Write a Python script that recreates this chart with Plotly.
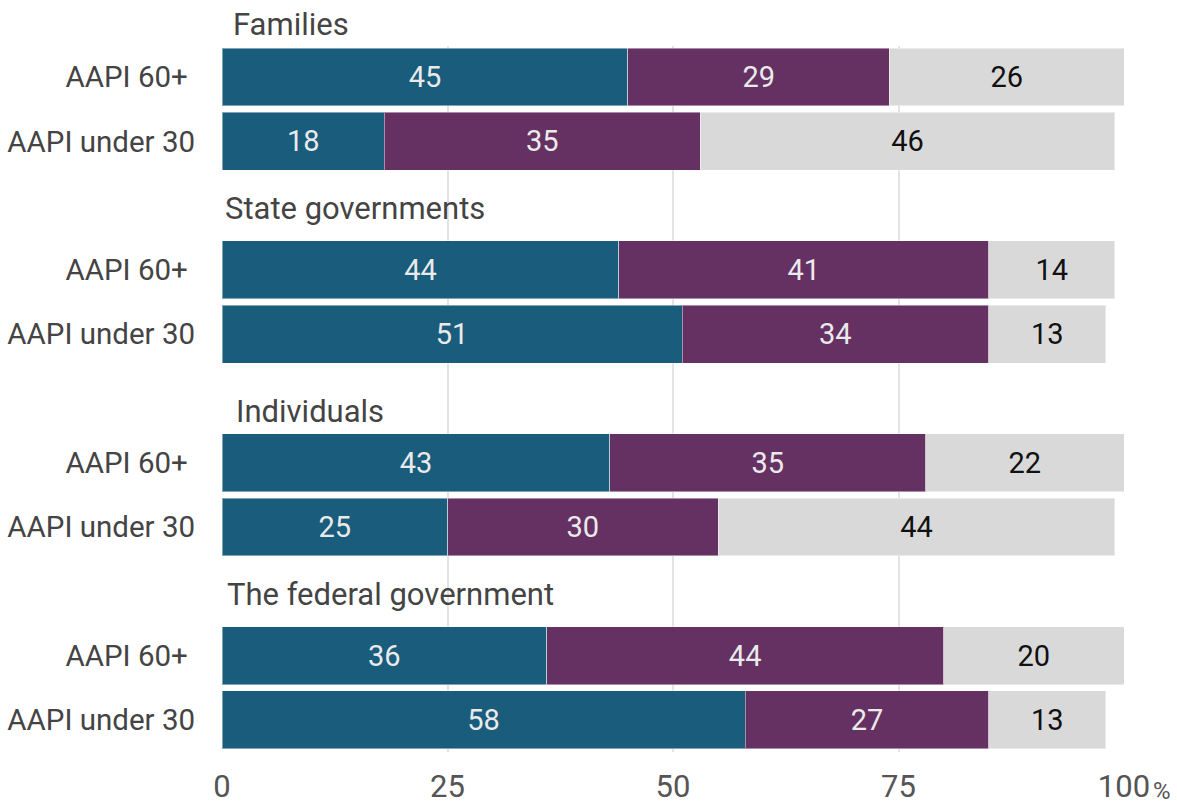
import plotly.graph_objects as go

# Survey groups and age cohorts
groups = ["Families", "State governments", "Individuals", "The federal government"]
ages = ["AAPI 60+", "AAPI under 30"]

# Shares (%) per row, ordered group by group, 60+ first
seg1 = [45, 18, 44, 51, 43, 25, 36, 58]
seg2 = [29, 35, 41, 34, 35, 30, 44, 27]
seg3 = [26, 46, 14, 13, 22, 44, 20, 13]

x_ticks = [0, 25, 50, 75, 100]
x_ticktext = ["0", "25", "50", "75", "100"]

# Each group gets a header slot followed by one slot per cohort
rows_y = []
row_labels = []
for g in range(len(groups)):
    for a, age in enumerate(ages):
        rows_y.append(3 * g + 1 + a)
        row_labels.append(age + ("\u00a0" if a == 0 else ""))

TEAL = "#195c7b"
PURPLE = "#653162"
GRAY = "#d9d9d9"
FONT = "Roboto"

fig = go.Figure()
for vals, color, txtcol, name in [
    (seg1, TEAL, "#eaeaea", "Segment 1"),
    (seg2, PURPLE, "#eaeaea", "Segment 2"),
    (seg3, GRAY, "#111111", "Segment 3"),
]:
    fig.add_trace(go.Bar(
        x=vals, y=rows_y, orientation="h", name=name,
        marker=dict(color=color, line=dict(color="rgba(255,255,255,0.45)", width=1)),
        width=0.9,
        text=[str(v) for v in vals], textposition="inside",
        insidetextanchor="middle",
        textfont=dict(family=FONT, size=29, color=txtcol),
        hoverinfo="x+name",
    ))

y_top, y_bot = 0.518, 11.5

def to_paper(slot):
    return (y_bot - slot) / (y_bot - y_top)

# Group headings
title_pos = [(0.97, 0.18), (0.12, 3.04), (1.33, 6.2), (0.34, 9.05)]
for name, (tx, ty) in zip(groups, title_pos):
    fig.add_annotation(
        text=name, x=tx, xref="x", y=to_paper(ty), yref="paper",
        xanchor="left", yanchor="middle", showarrow=False,
        font=dict(family=FONT, size=31, color="#444444"),
    )

# Percent sign trailing the last axis label
fig.add_annotation(
    text="%", x=100, xref="x", y=-0.0555, yref="paper",
    xanchor="left", yanchor="middle", xshift=27, showarrow=False,
    font=dict(family=FONT, size=24, color="#555555"),
)

fig.update_layout(
    barmode="stack",
    width=1177, height=805,
    margin=dict(l=222, r=53, t=46, b=53),
    paper_bgcolor="white", plot_bgcolor="white",
    showlegend=False,
    font=dict(family=FONT, color="#444444"),
    xaxis=dict(
        range=[0, 100], tickvals=x_ticks, ticktext=x_ticktext,
        showgrid=True, gridcolor="#e3e3e3", gridwidth=2,
        zeroline=False, showline=False, automargin=False,
        tickfont=dict(family=FONT, size=31, color="#555555"),
        ticks="outside", ticklen=7, tickcolor="rgba(0,0,0,0)",
    ),
    yaxis=dict(
        range=[y_bot, y_top], tickvals=rows_y, ticktext=row_labels,
        showgrid=False, zeroline=False, showline=False, automargin=False,
        tickfont=dict(family=FONT, size=29.5, color="#444444"),
        ticks="outside", ticklen=20, tickcolor="rgba(0,0,0,0)",
    ),
)

fig.write_html("out.html")
